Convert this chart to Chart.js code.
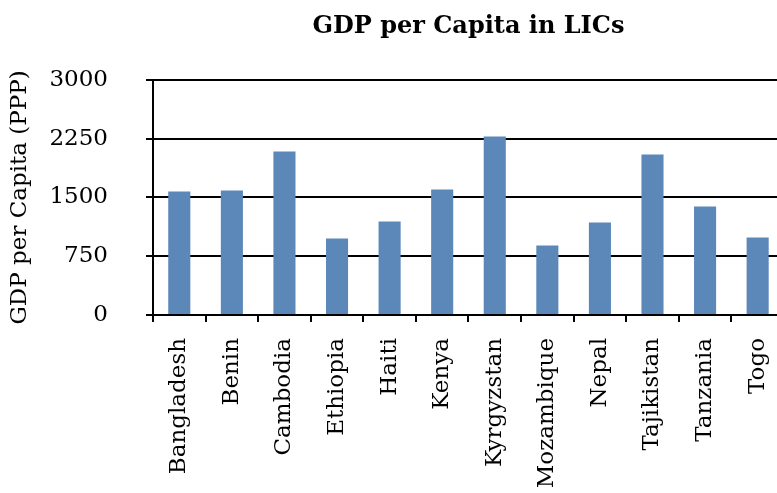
<!DOCTYPE html>
<html>
<head>
<meta charset="utf-8">
<script src="https://cdn.jsdelivr.net/npm/chart.js@4/dist/chart.umd.min.js"></script>
<style>
  html, body { margin: 0; padding: 0; background: #ffffff; overflow: hidden; }
  #wrap { width: 777px; height: 493px; overflow: hidden; }
</style>
</head>
<body>
<div id="wrap"><canvas id="myChart" width="802" height="493"></canvas></div>
<script>
const countries = ["Bangladesh", "Benin", "Cambodia", "Ethiopia", "Haiti", "Kenya",
  "Kyrgyzstan", "Mozambique", "Nepal", "Tajikistan", "Tanzania", "Togo"];
const gdpPerCapita = [1575, 1588, 2085, 976, 1193, 1601, 2277, 886, 1180, 2047, 1384, 989];
const yMin = 0;
const yMax = 3000;
const yStep = 750;

const serif = "'DejaVu Serif', 'Liberation Serif', serif";

const data = {
  labels: countries,
  datasets: [
    {
      label: "GDP per Capita (PPP)",
      data: gdpPerCapita,
      backgroundColor: "#5b87b9",
      borderWidth: 0,
      barPercentage: 0.42,
      categoryPercentage: 1
    }
  ]
};

const config = {
  type: "bar",
  data: data,
  options: {
    responsive: false,
    animation: false,
    devicePixelRatio: 1,
    layout: {
      padding: { left: 6, right: 0, top: 0, bottom: 0 }
    },
    plugins: {
      legend: { display: false },
      tooltip: { enabled: false },
      title: {
        display: true,
        fullSize: false,
        text: "GDP per Capita in LICs",
        color: "#000000",
        font: { family: serif, size: 24, weight: "bold" },
        padding: { top: 12, bottom: 39 }
      }
    },
    scales: {
      x: {
        offset: true,
        border: { color: "#000000", width: 2 },
        grid: {
          offset: true,
          drawOnChartArea: false,
          drawTicks: true,
          tickLength: 7,
          color: "#000000",
          lineWidth: 2
        },
        ticks: {
          color: "#000000",
          font: { family: serif, size: 23 },
          minRotation: 90,
          maxRotation: 90,
          padding: 16,
          autoSkip: false
        },
        // fixed axis height so the plot bottom sits where the original does
        afterFit: (scale) => { scale.height = 178; }
      },
      y: {
        min: yMin,
        max: yMax,
        border: { color: "#000000", width: 2 },
        grid: {
          color: "#000000",
          lineWidth: 2,
          tickLength: 7
        },
        ticks: {
          stepSize: yStep,
          color: "#000000",
          font: { family: serif, size: 23 },
          padding: 38,
          callback: (value) => String(value)
        },
        title: {
          display: true,
          text: "GDP per Capita (PPP)",
          color: "#000000",
          font: { family: serif, size: 23 },
          padding: { top: 0, bottom: 4 }
        },
        afterFit: (scale) => { scale.width = 147; }
      }
    }
  }
};

Chart.defaults.font.family = serif;

const ctx = document.querySelector("#myChart");
const myChart = new Chart(ctx, config);
</script>
</body>
</html>
